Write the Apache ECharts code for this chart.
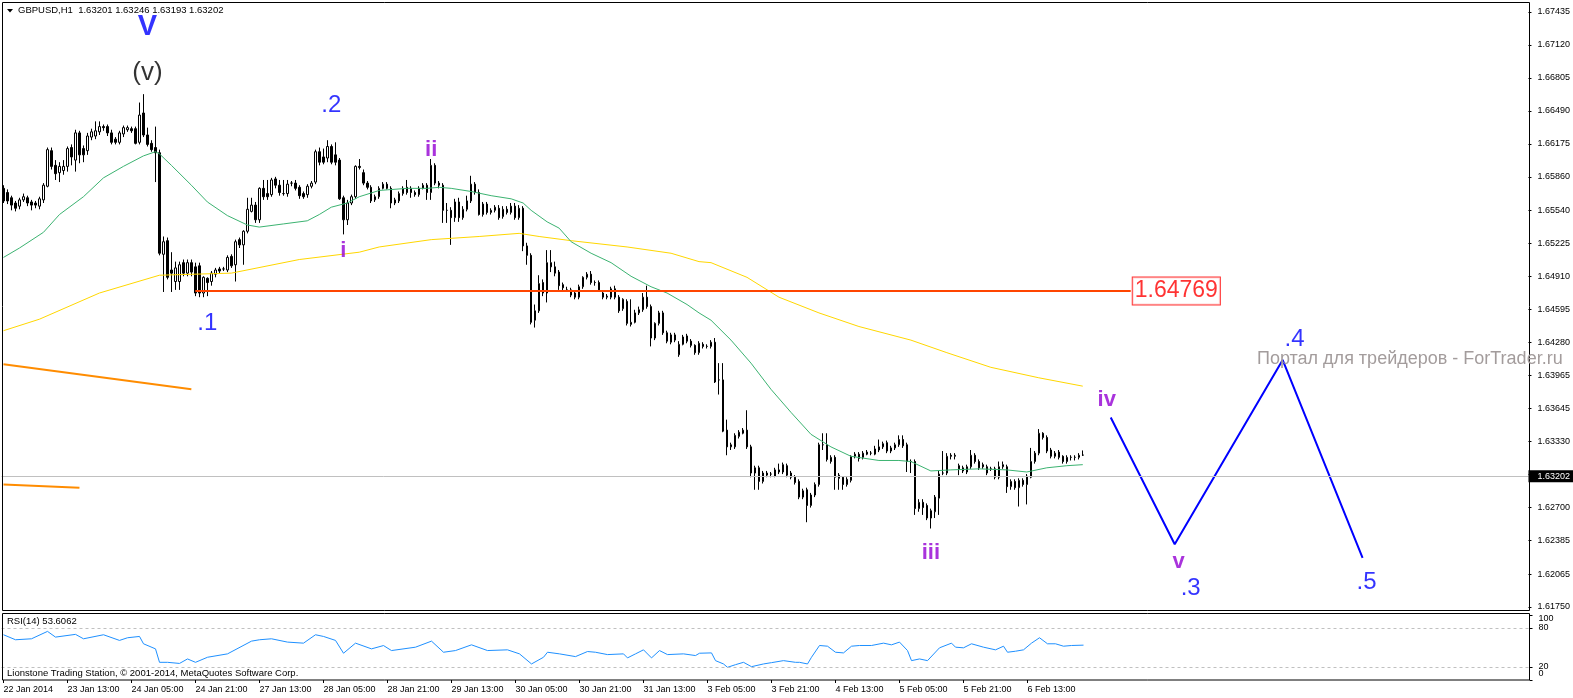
<!DOCTYPE html>
<html><head><meta charset="utf-8">
<script src="https://cdn.jsdelivr.net/npm/echarts@6/dist/echarts.min.js"></script>
<style>html,body{margin:0;padding:0;background:#fff}#c{width:1573px;height:698px}</style>
</head><body><div id="c"></div>
<script>
const symbolName = 'GBPUSD,H1';
const timeLabels = ['22 Jan 2014','23 Jan 13:00','24 Jan 05:00','24 Jan 21:00','27 Jan 13:00','28 Jan 05:00','28 Jan 21:00','29 Jan 13:00','30 Jan 05:00','30 Jan 21:00','31 Jan 13:00','3 Feb 05:00','3 Feb 21:00','4 Feb 13:00','5 Feb 05:00','5 Feb 21:00','6 Feb 13:00'];
const priceTicks = [1.61750,1.62065,1.62385,1.62700,1.63015,1.63330,1.63645,1.63965,1.64280,1.64595,1.64910,1.65225,1.65540,1.65860,1.66175,1.66490,1.66805,1.67120,1.67435];
const rsiInnerTicks = [20, 80];
const rsiOuterTicks = [0, 100];
// [open, close, low, high]
const ohlc = [
[1.6575,1.6563,1.6561,1.6578],[1.6571,1.6563,1.6560,1.6574],[1.6566,1.6559,1.6554,1.6568],[1.6561,1.6556,1.6553,1.6563],
[1.6558,1.6564,1.6555,1.6566],[1.6564,1.6567,1.6562,1.6570],[1.6566,1.6561,1.6558,1.6568],[1.6562,1.6559,1.6554,1.6564],
[1.6561,1.6559,1.6556,1.6563],[1.6558,1.6565,1.6555,1.6567],[1.6564,1.6578,1.6561,1.6580],[1.6577,1.6612,1.6576,1.6614],
[1.6611,1.6596,1.6593,1.6614],[1.6597,1.6589,1.6583,1.6602],[1.6590,1.6596,1.6581,1.6600],[1.6592,1.6596,1.6588,1.6602],
[1.6596,1.6613,1.6591,1.6615],[1.6614,1.6605,1.6597,1.6617],[1.6602,1.6628,1.6591,1.6631],[1.6628,1.6607,1.6599,1.6630],
[1.6613,1.6607,1.6600,1.6616],[1.6611,1.6625,1.6607,1.6628],[1.6624,1.6629,1.6621,1.6632],[1.6625,1.6630,1.6622,1.6639],
[1.6629,1.6634,1.6626,1.6639],[1.6634,1.6633,1.6630,1.6636],[1.6634,1.6628,1.6625,1.6636],[1.6628,1.6619,1.6617,1.6631],
[1.6622,1.6619,1.6617,1.6624],[1.6619,1.6628,1.6617,1.6630],[1.6627,1.6633,1.6624,1.6635],[1.6631,1.6633,1.6629,1.6635],
[1.6632,1.6630,1.6628,1.6634],[1.6632,1.6618,1.6617,1.6634],[1.6619,1.6645,1.6617,1.6657],[1.6647,1.6626,1.6624,1.6665],
[1.6626,1.6617,1.6615,1.6633],[1.6618,1.6612,1.6610,1.6621],[1.6614,1.6609,1.6581,1.6634],[1.6609,1.6513,1.6511,1.6612],
[1.6512,1.6524,1.6476,1.6529],[1.6525,1.6490,1.6488,1.6528],[1.6497,1.6494,1.6476,1.6514],[1.6486,1.6499,1.6478,1.6505],
[1.6486,1.6502,1.6478,1.6505],[1.6504,1.6494,1.6491,1.6507],[1.6494,1.6504,1.6491,1.6507],[1.6504,1.6495,1.6491,1.6507],
[1.6500,1.6475,1.6472,1.6504],[1.6501,1.6475,1.6471,1.6504],[1.6475,1.6490,1.6471,1.6491],[1.6489,1.6485,1.6472,1.6490],
[1.6486,1.6494,1.6482,1.6496],[1.6493,1.6497,1.6490,1.6499],[1.6498,1.6496,1.6494,1.6500],[1.6498,1.6498,1.6496,1.6500],
[1.6497,1.6509,1.6495,1.6511],[1.6510,1.6501,1.6499,1.6512],[1.6502,1.6524,1.6486,1.6526],[1.6526,1.6521,1.6518,1.6528],
[1.6521,1.6534,1.6502,1.6535],[1.6534,1.6555,1.6532,1.6566],[1.6553,1.6559,1.6552,1.6566],[1.6559,1.6545,1.6542,1.6562],
[1.6545,1.6575,1.6542,1.6576],[1.6575,1.6567,1.6564,1.6583],[1.6570,1.6567,1.6564,1.6583],[1.6569,1.6583,1.6567,1.6585],
[1.6584,1.6578,1.6575,1.6586],[1.6578,1.6571,1.6568,1.6583],[1.6570,1.6570,1.6568,1.6583],[1.6570,1.6579,1.6567,1.6583],
[1.6580,1.6580,1.6577,1.6582],[1.6580,1.6575,1.6573,1.6583],[1.6576,1.6568,1.6565,1.6578],[1.6570,1.6567,1.6565,1.6572],
[1.6569,1.6577,1.6566,1.6579],[1.6577,1.6580,1.6575,1.6582],[1.6581,1.6610,1.6579,1.6612],[1.6610,1.6600,1.6597,1.6614],
[1.6605,1.6600,1.6598,1.6613],[1.6604,1.6615,1.6600,1.6621],[1.6615,1.6600,1.6598,1.6617],[1.6607,1.6600,1.6597,1.6619],
[1.6602,1.6565,1.6564,1.6604],[1.6566,1.6545,1.6531,1.6568],[1.6545,1.6561,1.6540,1.6564],[1.6561,1.6567,1.6559,1.6569],
[1.6567,1.6596,1.6565,1.6597],[1.6596,1.6595,1.6593,1.6603],[1.6590,1.6580,1.6578,1.6593],[1.6580,1.6576,1.6574,1.6582],
[1.6576,1.6563,1.6561,1.6578],[1.6564,1.6567,1.6562,1.6569],[1.6567,1.6575,1.6565,1.6577],[1.6575,1.6579,1.6574,1.6581],
[1.6579,1.6575,1.6574,1.6581],[1.6575,1.6561,1.6556,1.6577],[1.6561,1.6564,1.6559,1.6566],[1.6563,1.6570,1.6561,1.6572],
[1.6570,1.6575,1.6568,1.6577],[1.6576,1.6571,1.6569,1.6583],[1.6575,1.6571,1.6566,1.6577],[1.6571,1.6569,1.6567,1.6573],
[1.6569,1.6575,1.6567,1.6577],[1.6575,1.6578,1.6574,1.6580],[1.6578,1.6571,1.6564,1.6580],[1.6571,1.6597,1.6564,1.6603],
[1.6597,1.6580,1.6578,1.6599],[1.6580,1.6578,1.6575,1.6582],[1.6578,1.6554,1.6542,1.6580],[1.6554,1.6554,1.6542,1.6561],
[1.6554,1.6547,1.6521,1.6557],[1.6547,1.6562,1.6543,1.6565],[1.6562,1.6547,1.6543,1.6566],[1.6547,1.6555,1.6545,1.6558],
[1.6555,1.6563,1.6553,1.6568],[1.6563,1.6579,1.6561,1.6587],[1.6579,1.6571,1.6569,1.6581],[1.6571,1.6550,1.6549,1.6574],
[1.6550,1.6560,1.6548,1.6562],[1.6560,1.6552,1.6550,1.6562],[1.6552,1.6554,1.6550,1.6556],[1.6554,1.6557,1.6552,1.6559],
[1.6556,1.6547,1.6545,1.6559],[1.6548,1.6555,1.6546,1.6558],[1.6555,1.6552,1.6550,1.6558],[1.6552,1.6558,1.6550,1.6561],
[1.6558,1.6547,1.6545,1.6561],[1.6547,1.6556,1.6545,1.6559],[1.6556,1.6520,1.6515,1.6558],[1.6520,1.6511,1.6502,1.6523],
[1.6511,1.6447,1.6445,1.6513],[1.6449,1.6458,1.6442,1.6464],[1.6458,1.6484,1.6456,1.6492],[1.6485,1.6475,1.6472,1.6488],
[1.6475,1.6504,1.6466,1.6516],[1.6504,1.6500,1.6495,1.6516],[1.6500,1.6494,1.6491,1.6505],[1.6495,1.6482,1.6478,1.6497],
[1.6483,1.6480,1.6477,1.6485],[1.6478,1.6478,1.6476,1.6481],[1.6478,1.6473,1.6471,1.6480],[1.6475,1.6471,1.6469,1.6477],
[1.6471,1.6481,1.6469,1.6483],[1.6481,1.6490,1.6479,1.6491],[1.6490,1.6493,1.6488,1.6495],[1.6493,1.6485,1.6483,1.6496],
[1.6485,1.6485,1.6482,1.6487],[1.6485,1.6478,1.6476,1.6487],[1.6475,1.6471,1.6469,1.6477],[1.6471,1.6472,1.6469,1.6474],
[1.6471,1.6479,1.6469,1.6481],[1.6479,1.6471,1.6469,1.6482],[1.6471,1.6458,1.6456,1.6473],[1.6460,1.6469,1.6458,1.6470],
[1.6467,1.6446,1.6444,1.6469],[1.6445,1.6447,1.6443,1.6469],[1.6447,1.6456,1.6446,1.6459],[1.6456,1.6459,1.6454,1.6462],
[1.6459,1.6471,1.6457,1.6475],[1.6471,1.6462,1.6460,1.6482],[1.6462,1.6432,1.6424,1.6464],[1.6432,1.6446,1.6430,1.6447],
[1.6446,1.6456,1.6444,1.6458],[1.6456,1.6437,1.6435,1.6458],[1.6437,1.6429,1.6427,1.6439],[1.6428,1.6435,1.6426,1.6437],
[1.6435,1.6430,1.6428,1.6437],[1.6416,1.6426,1.6414,1.6429],[1.6426,1.6433,1.6425,1.6435],[1.6434,1.6429,1.6427,1.6436],
[1.6429,1.6425,1.6423,1.6431],[1.6425,1.6418,1.6416,1.6426],[1.6418,1.6427,1.6416,1.6429],[1.6426,1.6424,1.6422,1.6428],
[1.6424,1.6424,1.6422,1.6426],[1.6424,1.6428,1.6422,1.6430],[1.6428,1.6390,1.6389,1.6432],[1.6392,1.6392,1.6378,1.6408],
[1.6392,1.6343,1.6342,1.6408],[1.6344,1.6328,1.6320,1.6354],[1.6328,1.6330,1.6325,1.6332],[1.6328,1.6339,1.6326,1.6341],
[1.6338,1.6342,1.6336,1.6344],[1.6341,1.6344,1.6340,1.6346],[1.6344,1.6328,1.6326,1.6363],[1.6328,1.6303,1.6299,1.6330],
[1.6303,1.6308,1.6287,1.6310],[1.6308,1.6295,1.6287,1.6310],[1.6295,1.6303,1.6293,1.6305],[1.6301,1.6303,1.6299,1.6305],
[1.6302,1.6302,1.6299,1.6304],[1.6300,1.6306,1.6299,1.6308],[1.6304,1.6306,1.6302,1.6312],[1.6304,1.6311,1.6302,1.6313],
[1.6310,1.6301,1.6299,1.6312],[1.6303,1.6299,1.6297,1.6305],[1.6299,1.6294,1.6292,1.6301],[1.6295,1.6280,1.6278,1.6297],
[1.6280,1.6286,1.6278,1.6288],[1.6287,1.6272,1.6256,1.6289],[1.6272,1.6282,1.6270,1.6284],[1.6282,1.6292,1.6280,1.6294],
[1.6292,1.6330,1.6290,1.6332],[1.6330,1.6330,1.6325,1.6341],[1.6330,1.6316,1.6314,1.6341],[1.6314,1.6318,1.6312,1.6320],
[1.6318,1.6299,1.6287,1.6320],[1.6301,1.6298,1.6287,1.6303],[1.6299,1.6292,1.6287,1.6300],[1.6292,1.6297,1.6290,1.6299],
[1.6296,1.6319,1.6294,1.6320],[1.6319,1.6321,1.6317,1.6323],[1.6321,1.6317,1.6314,1.6323],[1.6318,1.6322,1.6316,1.6324],
[1.6323,1.6321,1.6320,1.6325],[1.6322,1.6322,1.6320,1.6324],[1.6321,1.6326,1.6320,1.6329],[1.6325,1.6328,1.6323,1.6335],
[1.6328,1.6331,1.6326,1.6333],[1.6332,1.6324,1.6322,1.6334],[1.6324,1.6327,1.6322,1.6329],[1.6327,1.6330,1.6325,1.6332],
[1.6330,1.6335,1.6328,1.6339],[1.6335,1.6329,1.6327,1.6339],[1.6330,1.6314,1.6304,1.6332],[1.6314,1.6314,1.6303,1.6316],
[1.6314,1.6269,1.6263,1.6316],[1.6269,1.6275,1.6266,1.6278],[1.6275,1.6270,1.6263,1.6278],[1.6272,1.6260,1.6258,1.6274],
[1.6260,1.6267,1.6250,1.6269],[1.6266,1.6280,1.6260,1.6282],[1.6279,1.6302,1.6263,1.6305],[1.6303,1.6303,1.6301,1.6324],
[1.6303,1.6319,1.6301,1.6322],[1.6320,1.6319,1.6316,1.6322],[1.6319,1.6320,1.6316,1.6322],[1.6310,1.6307,1.6301,1.6312],
[1.6308,1.6305,1.6303,1.6310],[1.6304,1.6309,1.6302,1.6311],[1.6309,1.6320,1.6307,1.6325],[1.6320,1.6314,1.6312,1.6322],
[1.6314,1.6308,1.6306,1.6316],[1.6311,1.6309,1.6307,1.6313],[1.6309,1.6303,1.6301,1.6311],[1.6307,1.6307,1.6305,1.6309],
[1.6307,1.6299,1.6297,1.6309],[1.6299,1.6309,1.6297,1.6314],[1.6309,1.6311,1.6307,1.6314],[1.6309,1.6290,1.6284,1.6311],
[1.6290,1.6295,1.6287,1.6297],[1.6295,1.6289,1.6287,1.6297],[1.6289,1.6296,1.6271,1.6298],[1.6296,1.6292,1.6290,1.6298],
[1.6292,1.6300,1.6273,1.6302],[1.6299,1.6314,1.6298,1.6327],[1.6314,1.6322,1.6312,1.6324],[1.6322,1.6341,1.6320,1.6345],
[1.6341,1.6337,1.6335,1.6342],[1.6337,1.6324,1.6322,1.6339],[1.6325,1.6319,1.6317,1.6327],[1.6319,1.6322,1.6317,1.6324],
[1.6323,1.6318,1.6316,1.6325],[1.6319,1.6314,1.6312,1.6320],[1.6314,1.6318,1.6312,1.6320],[1.6318,1.6318,1.6315,1.6320],
[1.6318,1.6318,1.6315,1.6320],[1.6318,1.6320,1.6316,1.6322],[1.63201,1.63202,1.63193,1.63246]
];
const maFast = [[0,1.6509],[4,1.6518],[10,1.6533],[14,1.6550],[20,1.6567],[25,1.6585],[30,1.6596],[35,1.6606],[38,1.6610],[39,1.6608],[42,1.6597],[47,1.6578],[51,1.6562],[56,1.6549],[61,1.6540],[64,1.6538],[70,1.6541],[76,1.6544],[79,1.6550],[82,1.6557],[86,1.6561],[89,1.6567],[94,1.6573],[101,1.6575],[106,1.6575],[109,1.6576],[112,1.6575],[117,1.6572],[122,1.6568],[127,1.6565],[130,1.6561],[132,1.6554],[136,1.6543],[139,1.6537],[142,1.6524],[147,1.6513],[152,1.6504],[157,1.6491],[162,1.6481],[166,1.6475],[171,1.6464],[174,1.6456],[177,1.6449],[182,1.6430],[187,1.6408],[192,1.6383],[197,1.6361],[202,1.6340],[207,1.6328],[212,1.6319],[219,1.6315],[224,1.6315],[227,1.6314],[232,1.6305],[237,1.6306],[244,1.6307],[251,1.6306],[256,1.6304],[261,1.6308],[266,1.6310],[270,1.6311]];
const maSlow = [[0,1.6439],[9,1.6450],[24,1.6475],[39,1.6492],[57,1.6494],[74,1.6507],[89,1.6514],[94,1.6519],[107,1.6526],[119,1.6529],[129,1.6532],[134,1.6529],[142,1.6525],[156,1.6519],[167,1.6513],[174,1.6505],[177,1.6504],[186,1.6490],[194,1.6471],[204,1.6456],[214,1.6443],[227,1.6430],[236,1.6418],[247,1.6404],[259,1.6394],[270,1.6386]];
const rsi = [[0,69.6],[3,61.9],[7,63.4],[11,74.8],[13,66],[18,70.2],[20,63.4],[25,69.6],[29,60.9],[31,65],[34,67],[35,55.7],[38,47.9],[39,27.2],[41,27.2],[44,25.5],[46,32.4],[48,27.2],[51,35],[56,40.2],[62,59.8],[64,61.9],[67,63.4],[71,58.3],[75,56.7],[78,69.6],[80,67],[83,60.9],[85,41.2],[88,56.7],[92,47.9],[95,53],[97,45.3],[103,50.5],[107,59.8],[110,42.7],[113,45.3],[117,54.1],[121,45.3],[126,46.4],[129,40.2],[132,24.7],[135,35],[136,42.7],[139,40.2],[143,36],[146,43.8],[148,42.7],[151,39.1],[155,40.2],[156,34],[158,40.2],[160,46.4],[162,34],[164,45.3],[166,39.1],[170,40.2],[173,37.6],[174,41.2],[177,41.7],[178,29.8],[180,24.7],[181,19.5],[183,23.6],[185,27.2],[187,20.5],[190,24.7],[192,26.7],[195,29.8],[198,27.2],[199,27.2],[201,24.7],[202,35],[204,53.1],[206,52],[208,42.7],[210,41.7],[212,52],[214,53.1],[217,53.1],[220,56.7],[222,54.1],[224,58.3],[226,45.3],[227,29.8],[229,32.4],[231,29.8],[234,49.5],[237,56.7],[238,50.5],[240,49.5],[242,55.7],[245,50.5],[248,46.4],[250,52],[251,42.7],[253,44.3],[255,46.4],[257,56.7],[259,65],[261,55.7],[263,55.7],[265,52],[267,53.1],[270,53.6062]];
const levelPrice = 1.64769;
const levelLine = [[48, levelPrice], [282, levelPrice]];
const bidPrice = 1.63202;
const orangeA = [[0, 1.6407], [47, 1.6383]];
const orangeB = [[0, 1.6292], [19, 1.6289]];
const projection = [[277, 1.6356], [293, 1.6235], [320, 1.6411], [340, 1.6222]];
const blueLabels = [[51, 1.6446, '.1'], [82, 1.6654, '.2'], [297, 1.6193, '.3'], [323, 1.6431, '.4'], [341, 1.6199, '.5']];
const purpleLabels = [[85, 1.6515, 'i'], [107, 1.6612, 'ii'], [232, 1.6227, 'iii'], [276, 1.6373, 'iv'], [294, 1.6218, 'v']];
const bigLabels = [[36, 1.6729, 'V']];
const subLabels = [[36, 1.6685, '(v)']];
const watermark = 'Портал для трейдеров - ForTrader.ru';
const copyright = 'Lionstone Trading Station, © 2001-2014, MetaQuotes Software Corp.';

const N = 382;
const cats = Array.from({length: N}, (_, i) => String(i));
const FONT = '"Liberation Sans", Arial, sans-serif';
const showIdx = (i) => i % 16 === 0 && i / 16 < timeLabels.length;
const last = ohlc[ohlc.length - 1];
const header = symbolName + '  ' + [last[0], last[3], last[2], last[1]].map(v => v.toFixed(5)).join(' ');
const rsiText = 'RSI(14) ' + rsi[rsi.length - 1][1].toFixed(4);

const textScatter = (data, style, z) => ({
  type: 'scatter', xAxisIndex: 0, yAxisIndex: 0, symbolSize: 0, silent: true, z: z || 6,
  data: data, label: Object.assign({show: true, position: 'inside', formatter: p => p.data[2], fontFamily: FONT}, style)
});
const rsiAxis = (ticks, extra) => Object.assign({
  type: 'value', gridIndex: 1, min: 0, max: 100, position: 'right',
  splitLine: {show: false}, axisLine: {show: false},
  axisTick: {show: true, length: 3, customValues: ticks, lineStyle: {color: '#000'}}
}, extra);

const chart = echarts.init(document.getElementById('c'));
chart.setOption({
  animation: false,
  backgroundColor: '#ffffff',
  grid: [
    {left: 1.5, top: 12, width: 4 * N, height: 595},
    {left: 1.5, top: 615, width: 4 * N, height: 65}
  ],
  xAxis: [
    {type: 'category', gridIndex: 0, data: cats, boundaryGap: true, show: false},
    {type: 'category', gridIndex: 1, data: cats, boundaryGap: true,
     axisLine: {show: false},
     axisTick: {show: true, alignWithLabel: true, interval: showIdx, length: 3, lineStyle: {color: '#000'}},
     axisLabel: {interval: showIdx, formatter: (v, i) => timeLabels[i / 16] || '', align: 'left', margin: 5, fontSize: 9, fontFamily: FONT, color: '#000'},
     splitLine: {show: false}}
  ],
  yAxis: [
    {type: 'value', gridIndex: 0, min: 1.6175, max: 1.67435, position: 'right',
     splitLine: {show: false}, axisLine: {show: false},
     axisTick: {show: true, length: 3, customValues: priceTicks, lineStyle: {color: '#000'}},
     axisLabel: {customValues: priceTicks, showMinLabel: true, showMaxLabel: true, formatter: v => v.toFixed(5), margin: 9, fontSize: 9, fontFamily: FONT, color: '#000'}},
    rsiAxis(rsiInnerTicks, {
     axisLabel: {customValues: rsiInnerTicks, showMinLabel: true, showMaxLabel: true, margin: 9, fontSize: 9, fontFamily: FONT, color: '#000'}}),
    rsiAxis(rsiOuterTicks, {
     axisLabel: {customValues: rsiOuterTicks, showMinLabel: true, showMaxLabel: true, margin: 9, fontSize: 9, fontFamily: FONT, color: '#000',
       formatter: v => v === 100 ? '{t|100}' : '{b|0}',
       rich: {t: {padding: [8, 0, 0, 0], fontSize: 9, fontFamily: FONT, color: '#000'}, b: {padding: [0, 0, 13, 0], fontSize: 9, fontFamily: FONT, color: '#000'}}}})
  ],
  series: [
    {type: 'candlestick', xAxisIndex: 0, yAxisIndex: 0, data: ohlc, barWidth: 2, z: 2,
     itemStyle: {color: '#ffffff', color0: '#000000', borderColor: '#000000', borderColor0: '#000000', borderWidth: 1},
     markLine: {silent: true, symbol: 'none', animation: false,
       lineStyle: {color: '#c0c0c0', width: 1, type: 'solid'},
       label: {show: true, position: 'end', distance: 0, formatter: bidPrice.toFixed(5), backgroundColor: '#000', color: '#fff', padding: [2, 5, 1, 9], fontSize: 9, fontFamily: FONT},
       data: [{yAxis: bidPrice}]}},
    {type: 'line', xAxisIndex: 0, yAxisIndex: 0, data: maSlow, symbol: 'none', z: 3, lineStyle: {color: '#ffd700', width: 1}},
    {type: 'line', xAxisIndex: 0, yAxisIndex: 0, data: maFast, symbol: 'none', z: 3, lineStyle: {color: '#3cb371', width: 1}},
    {type: 'line', xAxisIndex: 0, yAxisIndex: 0, data: orangeA, symbol: 'none', z: 3, lineStyle: {color: '#ff8c00', width: 2}},
    {type: 'line', xAxisIndex: 0, yAxisIndex: 0, data: orangeB, symbol: 'none', z: 3, lineStyle: {color: '#ff8c00', width: 2}},
    {type: 'line', xAxisIndex: 0, yAxisIndex: 0, data: levelLine, symbol: 'none', z: 4, lineStyle: {color: '#ff4500', width: 2}},
    {type: 'line', xAxisIndex: 0, yAxisIndex: 0, data: projection, symbol: 'none', z: 4, lineStyle: {color: '#0000ff', width: 2}},
    {type: 'scatter', xAxisIndex: 0, yAxisIndex: 0, symbolSize: 0, silent: true, z: 6,
     data: [levelLine[1]],
     label: {show: true, position: 'right', distance: 2, formatter: levelPrice.toFixed(5), color: '#ff0000', fontSize: 23, lineHeight: 24, fontFamily: FONT,
       backgroundColor: '#ffffff', borderColor: '#ff0000', borderWidth: 1, padding: [2, 2, 1, 2]}},
    textScatter(blueLabels, {color: '#0000ff', fontSize: 24}),
    textScatter(purpleLabels, {color: '#9400d3', fontSize: 22, fontWeight: 'bold'}),
    textScatter(bigLabels, {color: '#0000ff', fontSize: 29, fontWeight: 'bold'}),
    textScatter(subLabels, {color: '#000000', fontSize: 26}),
    {type: 'line', xAxisIndex: 1, yAxisIndex: 1, data: rsi, symbol: 'none', z: 3, lineStyle: {color: '#1e90ff', width: 1},
     markLine: {silent: true, symbol: 'none', animation: false, label: {show: false},
       lineStyle: {color: '#c0c0c0', width: 1, type: [3, 3]},
       data: [{yAxis: 80}, {yAxis: 20}]}}
  ],
  graphic: [
    {type: 'rect', silent: true, z: 100, shape: {x: 2.5, y: 2.5, width: 1527, height: 608}, style: {fill: 'none', stroke: '#000', lineWidth: 1}},
    {type: 'rect', silent: true, z: 100, shape: {x: 2.5, y: 613.5, width: 1527, height: 66.5}, style: {fill: 'none', stroke: '#000', lineWidth: 1}},
    {type: 'polygon', silent: true, z: 100, shape: {points: [[7, 9], [13, 9], [10, 12.5]]}, style: {fill: '#000'}},
    {type: 'text', silent: true, z: 100, x: 18, y: 10.5, style: {text: header, fill: '#000', font: '9.5px ' + FONT, verticalAlign: 'middle'}},
    {type: 'text', silent: true, z: 100, x: 7, y: 621, style: {text: rsiText, fill: '#000', font: '9.5px ' + FONT, verticalAlign: 'middle'}},
    {type: 'text', silent: true, z: 100, x: 7, y: 673, style: {text: copyright, fill: '#000', font: '9.5px ' + FONT, verticalAlign: 'middle'}},
    {type: 'text', silent: true, z: 100, x: 1257, y: 359, style: {text: watermark, fill: '#a39c9c', font: '18px ' + FONT, verticalAlign: 'middle'}}
  ]
});
</script>
</body></html>
